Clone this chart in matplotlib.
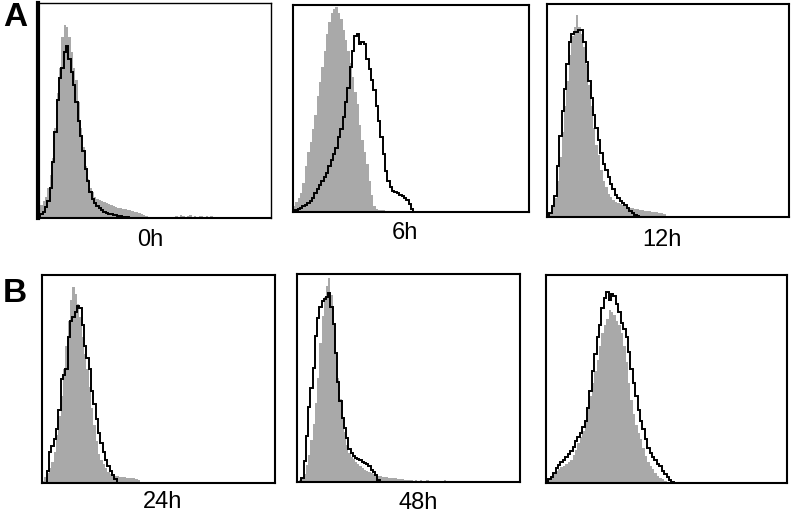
"""Flow cytometry overlays: isotype-like gray fill vs black outline per time point."""

import matplotlib
matplotlib.use("Agg")
import matplotlib.pyplot as plt
import numpy as np

plt.rcParams["font.family"] = ["Liberation Sans", "DejaVu Sans"]

# bin heights (percent of panel height), one bin = 1 % of the x range
gray_0h = [0, 6, 8, 10, 14, 20, 28, 42, 58, 70, 84, 90, 89, 84, 77, 70, 64, 54, 42, 33,
           24, 18, 14, 12, 10, 9, 8.5, 8, 7.5, 7, 6.5, 6, 5.5, 5, 4.8, 4.5, 4.2, 4, 3.8, 3.5,
           3.2, 3, 2.6, 2.3, 2, 1.5, 1, 0.5, 0, 0, 0, 0, 0, 0, 0, 0, 0, 0, 0,
           1, 0.5, 1.5, 1, 0, 1, 1.2, 0.5, 1, 0, 0.8, 1, 0.5, 1, 0, 0.8, 0.5]
black_0h = [0, 2, 3, 5, 8, 14, 26, 40, 55, 65, 70, 77, 80, 74, 68, 62, 54, 45, 38, 31,
            23, 17, 12, 9, 7, 5.5, 4.5, 3.5, 3, 2.3, 2, 1.7, 1.4, 1.2, 1, 0.8, 0.6, 0.5, 0.3]

gray_6h = [3, 5, 7, 9, 14, 22, 29, 34, 40, 47, 56, 63, 70, 78, 86, 92, 96, 98, 99, 96,
           93, 88, 83, 78, 72, 65, 58, 52, 42, 35, 29, 23, 15, 8, 3, 1.5, 1, 1, 0.8, 0.5]
black_6h = [0, 1, 1.5, 2, 3, 3.5, 4.5, 5.5, 7, 9, 11, 13, 15, 17, 19, 22, 25, 28, 31, 36,
            40, 46, 53, 60, 70, 78, 85, 86, 81, 82, 81, 74, 69, 64, 59, 51, 44, 36, 28, 20,
            15, 12, 10, 9.5, 9, 8, 7.5, 7, 6, 4, 1.5]

gray_12h = [0, 2, 5, 9, 17, 28, 40, 52, 64, 76, 85, 89, 95, 89, 86, 80, 72, 62, 52, 42,
            34, 29, 22, 17, 14, 11, 9.5, 8, 7, 6.5, 6, 5.5, 5, 4.5, 4, 4, 3.8, 3.6, 3.4, 3.2,
            3, 2.9, 2.7, 2.5, 2.3, 2.2, 2, 1.9, 1.5]
black_12h = [0, 2, 5, 10, 24, 38, 50, 60, 72, 82, 86, 87, 87, 88, 88, 82, 73, 64, 56, 48,
             42, 36, 30, 25, 22, 19, 15.5, 13, 10.5, 9, 7.5, 6.6, 5.5, 4, 3, 2, 1, 0.5]

gray_24h = [1, 3, 5, 7, 10, 15, 23, 32, 42, 55, 66, 78, 88, 94, 91, 86, 80, 70, 62, 55,
            46, 36, 28, 20, 14, 11, 9, 7, 5.5, 4.5, 4, 3.5, 3.2, 3, 2.8, 2.7, 2.6, 2.5, 2.3, 2.2,
            2, 1.5]
black_24h = [0, 0, 6, 15, 18, 21, 26, 35, 50, 52, 55, 70, 78, 80, 82, 85, 84, 76, 66, 60,
             55, 44, 38, 31, 24, 19, 15, 11, 8, 6, 4, 2]

gray_48h = [0, 1, 2, 4, 8, 13, 20, 28, 38, 50, 67, 80, 89, 94, 98, 90, 76, 62, 50, 40,
            31, 24, 18, 14, 12, 11, 9.5, 8.5, 7.5, 6.8, 6, 5.5, 5, 4.5, 4, 3.5, 3, 2.8, 2.5, 2.3,
            2.2, 2, 2, 1.8, 1.7, 1.6, 1.5, 1.5, 1, 1.2, 0.8, 1, 0.6, 1, 0.5, 0.8, 0, 0.6,
            0.8, 0, 0.5, 0, 0.6, 0, 0, 0.5, 0.8, 0, 0, 0, 0, 0, 0.5, 0, 0, 0, 0, 0,
            0, 0, 0, 0.5, 0, 0, 0, 0, 0, 0, 0, 0.4, 0]
black_48h = [0, 0, 2, 10, 22, 36, 45, 55, 70, 79, 84, 87, 88, 89, 91, 84, 76, 62, 48, 39,
             31, 26, 21, 16, 14, 12.5, 11.5, 11, 10.5, 9.8, 9, 8.5, 7.5, 6, 5, 3.5, 1]

gray_ctrl = [0, 2, 3.5, 5, 6, 6.5, 7.5, 8, 9, 10, 11, 13.5, 16, 19, 22, 25, 30, 36, 42, 48,
             54, 59, 66, 72, 76, 79, 83, 82, 81, 78, 76, 72, 66, 58, 48, 40, 33, 28, 24, 21,
             17, 13, 10, 8, 6.5, 5, 3.5, 2.5, 1.8, 1, 0.5]
black_ctrl = [0, 2, 3, 5, 7, 8.5, 10, 11, 12.5, 14, 15.5, 17.5, 20, 22, 24, 27, 30, 36, 44, 54,
              62, 70, 76, 84, 89, 92, 88, 91, 90, 86, 82, 77, 74, 70, 63, 55, 48, 42, 35, 30,
              26, 21, 17, 14.5, 12.5, 11, 9, 8, 6, 4.5, 3, 1.6, 0.5]

labels = ["0h", "6h", "12h", "24h", "48h", ""]
gray_sets = [gray_0h, gray_6h, gray_12h, gray_24h, gray_48h, gray_ctrl]
black_sets = [black_0h, black_6h, black_12h, black_24h, black_48h, black_ctrl]

# panel boxes in pixels (left, top, right, bottom) and label anchors
W, H = 792, 514
boxes = [(38, 3, 271, 218), (293, 5, 529, 212), (547, 4, 789, 217),
         (42, 275, 275, 483), (297, 274, 520, 482), (546, 275, 787, 483)]
label_xy = [(150, 240), (405, 233), (662, 240), (163, 502), (418, 503), (0, 0)]

fig = plt.figure(figsize=(W / 100, H / 100), dpi=100)

for i, (box, g, b, lab) in enumerate(zip(boxes, gray_sets, black_sets, labels)):
    l, t, r, btm = box
    ax = fig.add_axes([l / W, 1 - btm / H, (r - l) / W, (btm - t) / H])
    ax.stairs(g, np.arange(len(g) + 1), fill=True, color="#a9a9a9", lw=0)
    ax.stairs(b, np.arange(len(b) + 1), color="black", lw=1.4)
    ax.set_xlim(0, 100)
    ax.set_ylim(0, 100)
    ax.set_xticks([])
    ax.set_yticks([])
    for s in ax.spines.values():
        s.set_linewidth(1.5)
    if i == 0:
        ax.spines["left"].set_linewidth(3)
        ax.spines["top"].set_linewidth(1)
        ax.spines["right"].set_linewidth(1)
    if lab:
        lx, ly = label_xy[i]
        fig.text(lx / W, 1 - ly / H, lab, ha="center", va="center", fontsize=17)

fig.text(15 / W, 1 - 18 / H, "A", ha="center", va="center", fontsize=24, fontweight="bold")
fig.text(15 / W, 1 - 293 / H, "B", ha="center", va="center", fontsize=24, fontweight="bold")

fig.savefig("out.png", dpi=100)
